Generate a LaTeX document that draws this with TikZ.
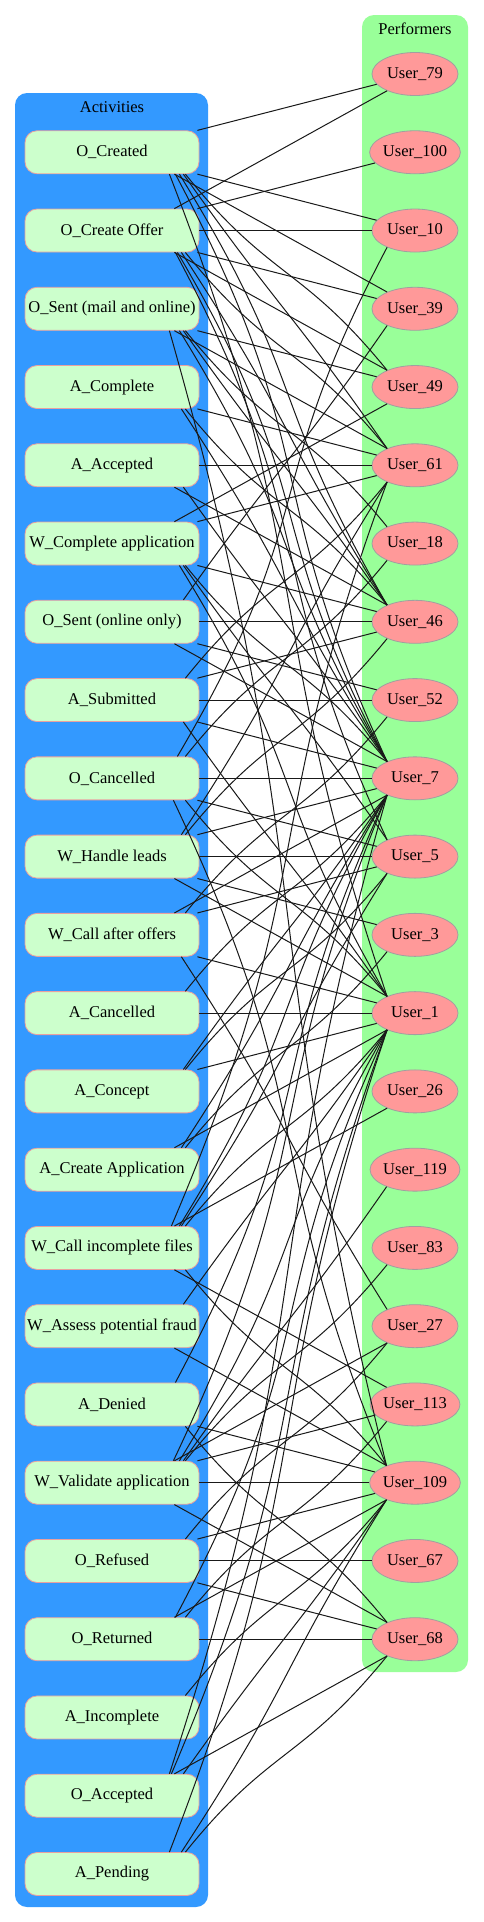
\documentclass[tikz,border=0pt]{standalone}
\usepackage{fontspec}
\setmainfont{Liberation Serif}
\usetikzlibrary{shapes.geometric}
\definecolor{clblue}{HTML}{3399FF}
\definecolor{clgreen}{HTML}{99FF99}
\definecolor{actfill}{HTML}{CCFFCC}
\definecolor{actdraw}{HTML}{EAA0A0}
\definecolor{usrfill}{HTML}{FF9999}
\definecolor{usrdraw}{HTML}{A0A0A0}
\newcommand\mkedge[4]{%
  \pgfmathtruncatemacro\dd{#4-#2}%
  \pgfmathtruncatemacro\ad{abs(\dd)}%
  \pgfmathsetmacro\cya{0.45*78.26*\dd}%
  \pgfmathsetmacro\cyb{-0.45*78.26*\dd}%
  \pgfmathsetmacro\kxa{min(150,40+15*\ad)}%
  \pgfmathsetmacro\kxb{-min(130,50+12*\ad)}%
  \pgfmathsetmacro\xs{min(30,8+2*\ad)}%
  \ifnum\ad=0
    \draw[lnk] (#1.east) -- (#3.west);
  \else\ifnum\ad=1
    \ifnum\dd>0 \draw[lnk] ([xshift=-2pt]#1.south east) -- (#3.165);
    \else \draw[lnk] ([xshift=-2pt]#1.north east) -- (#3.195); \fi
  \else\ifnum\ad=2
    \ifnum\dd>0 \draw[lnk] ([xshift=-25pt]#1.south east) -- (#3.149);
    \else \draw[lnk] ([xshift=-25pt]#1.north east) -- (#3.211); \fi
  \else
    \ifnum\dd>0 \draw[lnk] ([xshift=-\xs pt]#1.south east) .. controls +(\kxa,\cya) and +(\kxb,\cyb) .. (#3.149);
    \else \draw[lnk] ([xshift=-\xs pt]#1.north east) .. controls +(\kxa,\cya) and +(\kxb,\cyb) .. (#3.211); \fi
  \fi\fi\fi}
\begin{document}
\begin{tikzpicture}[x=1pt,y=-1pt,
  act/.style={draw=actdraw, fill=actfill, rounded corners=12pt, minimum width=174pt, minimum height=43pt, inner sep=1pt, line width=0.8pt, font=\fontsize{16.5}{19}\selectfont},
  usr/.style={ellipse, draw=usrdraw, fill=usrfill, minimum width=86pt, minimum height=43pt, inner sep=0pt, line width=0.8pt, font=\fontsize{16.5}{19}\selectfont},
  lnk/.style={draw=black!90, line width=1pt},
  ttl/.style={font=\fontsize{16.5}{19}\selectfont}]
\fill[white] (0,0) rectangle (484,1922);
\useasboundingbox (0,0) rectangle (484,1922);
\fill[clblue, rounded corners=12pt] (15,93) rectangle (208,1907);
\fill[clgreen, rounded corners=12pt] (362,15) rectangle (468,1672);
\node[ttl] (tact) at (112,107) {Activities};
\node[ttl] (tper) at (415,29) {Performers};
% activities
\node[act] (a1) at (112,152.26) {O\_Created};
\node[act] (a2) at (112,230.52) {O\_Create Offer};
\node[act] (a3) at (112,308.78) {O\_Sent (mail and online)};
\node[act] (a4) at (112,387.04) {A\_Complete};
\node[act] (a5) at (112,465.3) {A\_Accepted};
\node[act] (a6) at (112,543.56) {W\_Complete application};
\node[act] (a7) at (112,621.82) {O\_Sent (online only)};
\node[act] (a8) at (112,700.08) {A\_Submitted};
\node[act] (a9) at (112,778.34) {O\_Cancelled};
\node[act] (a10) at (112,856.6) {W\_Handle leads};
\node[act] (a11) at (112,934.86) {W\_Call after offers};
\node[act] (a12) at (112,1013.12) {A\_Cancelled};
\node[act] (a13) at (112,1091.38) {A\_Concept};
\node[act] (a14) at (112,1169.64) {A\_Create Application};
\node[act] (a15) at (112,1247.9) {W\_Call incomplete files};
\node[act] (a16) at (112,1326.16) {W\_Assess potential fraud};
\node[act] (a17) at (112,1404.42) {A\_Denied};
\node[act] (a18) at (112,1482.68) {W\_Validate application};
\node[act] (a19) at (112,1560.94) {O\_Refused};
\node[act] (a20) at (112,1639.2) {O\_Returned};
\node[act] (a21) at (112,1717.46) {A\_Incomplete};
\node[act] (a22) at (112,1795.72) {O\_Accepted};
\node[act] (a23) at (112,1873.98) {A\_Pending};
% users
\node[usr] (u79) at (415,74) {User\_79};
\node[usr] (u100) at (415,152.26) {User\_100};
\node[usr] (u10) at (415,230.52) {User\_10};
\node[usr] (u39) at (415,308.78) {User\_39};
\node[usr] (u49) at (415,387.04) {User\_49};
\node[usr] (u61) at (415,465.3) {User\_61};
\node[usr] (u18) at (415,543.56) {User\_18};
\node[usr] (u46) at (415,621.82) {User\_46};
\node[usr] (u52) at (415,700.08) {User\_52};
\node[usr] (u7) at (415,778.34) {User\_7};
\node[usr] (u5) at (415,856.6) {User\_5};
\node[usr] (u3) at (415,934.86) {User\_3};
\node[usr] (u1) at (415,1013.12) {User\_1};
\node[usr] (u26) at (415,1091.38) {User\_26};
\node[usr] (u119) at (415,1169.64) {User\_119};
\node[usr] (u83) at (415,1247.9) {User\_83};
\node[usr] (u27) at (415,1326.16) {User\_27};
\node[usr] (u113) at (415,1404.42) {User\_113};
\node[usr] (u109) at (415,1482.68) {User\_109};
\node[usr] (u67) at (415,1560.94) {User\_67};
\node[usr] (u68) at (415,1639.2) {User\_68};
% edges
\mkedge{a1}{1}{u79}{0}\mkedge{a1}{1}{u10}{2}\mkedge{a1}{1}{u39}{3}\mkedge{a1}{1}{u49}{4}
\mkedge{a1}{1}{u61}{5}\mkedge{a1}{1}{u46}{7}\mkedge{a1}{1}{u7}{9}\mkedge{a1}{1}{u1}{12}
\mkedge{a2}{2}{u79}{0}\mkedge{a2}{2}{u100}{1}\mkedge{a2}{2}{u10}{2}\mkedge{a2}{2}{u39}{3}
\mkedge{a2}{2}{u49}{4}\mkedge{a2}{2}{u61}{5}\mkedge{a2}{2}{u46}{7}\mkedge{a2}{2}{u7}{9}\mkedge{a2}{2}{u5}{10}
\mkedge{a3}{3}{u49}{4}\mkedge{a3}{3}{u61}{5}\mkedge{a3}{3}{u18}{6}\mkedge{a3}{3}{u46}{7}
\mkedge{a3}{3}{u7}{9}\mkedge{a3}{3}{u109}{18}
\mkedge{a4}{4}{u61}{5}\mkedge{a4}{4}{u46}{7}\mkedge{a4}{4}{u7}{9}
\mkedge{a5}{5}{u61}{5}\mkedge{a5}{5}{u46}{7}\mkedge{a5}{5}{u7}{9}
\mkedge{a6}{6}{u49}{4}\mkedge{a6}{6}{u61}{5}\mkedge{a6}{6}{u46}{7}\mkedge{a6}{6}{u7}{9}
\mkedge{a6}{6}{u5}{10}\mkedge{a6}{6}{u1}{12}
\mkedge{a7}{7}{u39}{3}\mkedge{a7}{7}{u46}{7}\mkedge{a7}{7}{u52}{8}\mkedge{a7}{7}{u7}{9}
\mkedge{a8}{8}{u61}{5}\mkedge{a8}{8}{u46}{7}\mkedge{a8}{8}{u52}{8}\mkedge{a8}{8}{u7}{9}\mkedge{a8}{8}{u1}{12}
\mkedge{a9}{9}{u10}{2}\mkedge{a9}{9}{u18}{6}\mkedge{a9}{9}{u7}{9}\mkedge{a9}{9}{u5}{10}
\mkedge{a9}{9}{u1}{12}\mkedge{a9}{9}{u109}{18}
\mkedge{a10}{10}{u61}{5}\mkedge{a10}{10}{u46}{7}\mkedge{a10}{10}{u7}{9}\mkedge{a10}{10}{u5}{10}
\mkedge{a10}{10}{u3}{11}\mkedge{a10}{10}{u1}{12}
\mkedge{a11}{11}{u52}{8}\mkedge{a11}{11}{u7}{9}\mkedge{a11}{11}{u5}{10}\mkedge{a11}{11}{u1}{12}\mkedge{a11}{11}{u27}{16}
\mkedge{a12}{12}{u7}{9}\mkedge{a12}{12}{u1}{12}
\mkedge{a13}{13}{u7}{9}\mkedge{a13}{13}{u5}{10}\mkedge{a13}{13}{u1}{12}
\mkedge{a14}{14}{u3}{11}\mkedge{a14}{14}{u7}{9}\mkedge{a14}{14}{u1}{12}
\mkedge{a15}{15}{u61}{5}\mkedge{a15}{15}{u7}{9}\mkedge{a15}{15}{u5}{10}\mkedge{a15}{15}{u1}{12}
\mkedge{a15}{15}{u26}{13}\mkedge{a15}{15}{u113}{17}\mkedge{a15}{15}{u109}{18}
\mkedge{a16}{16}{u1}{12}\mkedge{a16}{16}{u109}{18}
\mkedge{a17}{17}{u7}{9}\mkedge{a17}{17}{u109}{18}\mkedge{a17}{17}{u68}{20}
\mkedge{a18}{18}{u7}{9}\mkedge{a18}{18}{u1}{12}\mkedge{a18}{18}{u119}{14}\mkedge{a18}{18}{u83}{15}
\mkedge{a18}{18}{u27}{16}\mkedge{a18}{18}{u113}{17}\mkedge{a18}{18}{u109}{18}\mkedge{a18}{18}{u68}{20}
\mkedge{a19}{19}{u27}{16}\mkedge{a19}{19}{u109}{18}\mkedge{a19}{19}{u67}{19}\mkedge{a19}{19}{u68}{20}
\mkedge{a20}{20}{u1}{12}\mkedge{a20}{20}{u113}{17}\mkedge{a20}{20}{u109}{18}\mkedge{a20}{20}{u68}{20}
\mkedge{a21}{21}{u109}{18}
\mkedge{a22}{22}{u7}{9}\mkedge{a22}{22}{u1}{12}\mkedge{a22}{22}{u109}{18}\mkedge{a22}{22}{u68}{20}
\mkedge{a23}{23}{u1}{12}\mkedge{a23}{23}{u109}{18}\mkedge{a23}{23}{u68}{20}
\end{tikzpicture}
\end{document}
